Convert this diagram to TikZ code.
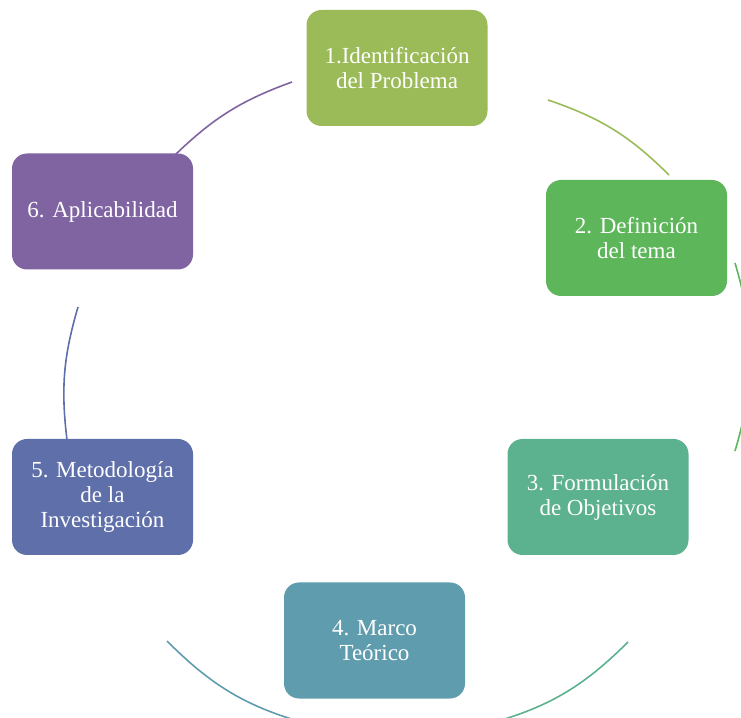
\documentclass[tikz,border=0pt]{standalone}
\usepackage{fontspec}
\setmainfont{Liberation Serif}
\definecolor{cA}{HTML}{9BBB59}
\definecolor{cB}{HTML}{5EB65B}
\definecolor{cC}{HTML}{5CB18E}
\definecolor{cD}{HTML}{5F9DAE}
\definecolor{cE}{HTML}{5F6FA9}
\definecolor{cF}{HTML}{8064A2}
\begin{document}
\begin{tikzpicture}[x=1pt,y=1pt,
  box/.style={rounded corners=15pt, minimum width=181pt, minimum height=116pt,
    inner sep=0pt, text=white, align=center, font=\fontsize{23}{25}\selectfont},
  link/.style={line width=1.6pt}]
\useasboundingbox (0,0) rectangle (741,717);
\clip (0,0) rectangle (741,717);
% arcs
\coordinate (s61) at (175,562); \coordinate (e61) at (292,635);
\coordinate (s12) at (548,617); \coordinate (e12) at (669,542);
\coordinate (s23) at (735,454); \coordinate (e23) at (735,266);
\coordinate (s34) at (628,75);  \coordinate (e34) at (484,-8);
\coordinate (s45) at (312,-8);  \coordinate (e45) at (167,76);
\coordinate (s56) at (67,277);  \coordinate (e56) at (78,410);
\draw[link, draw=cF] (s61) to[bend left=12] (e61);
\draw[link, draw=cA] (s12) to[bend left=13] (e12);
\draw[link, draw=cB] (s23) to[bend left=16.5] (e23);
\draw[link, draw=cC] (s34) to[bend left=15] (e34);
\draw[link, draw=cD] (s45) to[bend left=15] (e45);
\draw[link, draw=cE] (s56) to[bend left=11.6] (e56);
% boxes
\node[box, fill=cA] (b1) at (397,649) {1.Identificación\\del Problema};
\node[box, fill=cB] (b2) at (636.5,479) {2. Definición\\del tema};
\node[box, fill=cC] (b3) at (598,220) {3. Formulación\\de Objetivos};
\node[box, fill=cD] (b4) at (374.5,76.5) {4. Marco\\Teórico};
\node[box, fill=cE] (b5) at (102.5,220) {5. Metodología\\de la\\Investigación};
\node[box, fill=cF] (b6) at (102.5,505.5) {6. Aplicabilidad};
\end{tikzpicture}
\end{document}
